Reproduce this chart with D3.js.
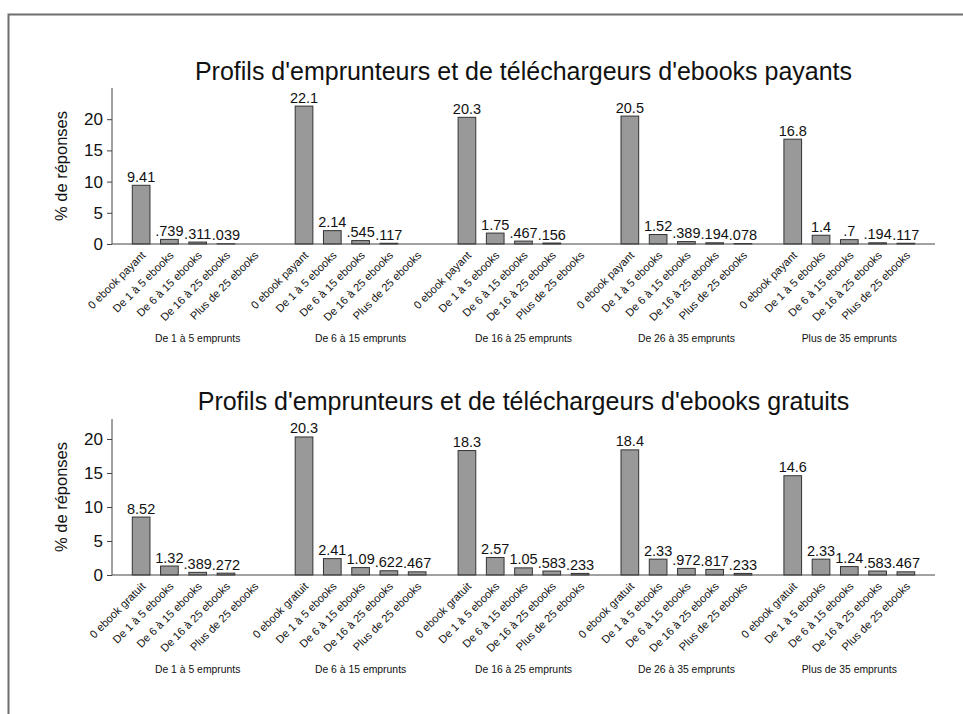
<!DOCTYPE html>
<html><head><meta charset="utf-8">
<script src="https://cdn.jsdelivr.net/npm/d3@7"></script>
<style>
html,body{margin:0;padding:0;background:#fff;}
svg{display:block;font-family:"Liberation Sans",Arial,sans-serif;}
</style></head>
<body>
<svg id="chart" width="963" height="714"></svg>
<script>
// ---- data ----
const groups = ["De 1 à 5 emprunts","De 6 à 15 emprunts","De 16 à 25 emprunts","De 26 à 35 emprunts","Plus de 35 emprunts"];
const catsPayant = ["0 ebook payant","De 1 à 5 ebooks","De 6 à 15 ebooks","De 16 à 25 ebooks","Plus de 25 ebooks"];
const catsGratuit = ["0 ebook gratuit","De 1 à 5 ebooks","De 6 à 15 ebooks","De 16 à 25 ebooks","Plus de 25 ebooks"];
const valuesPayant = [
  [9.41, .739, .311, .039, null],
  [22.1, 2.14, .545, .117, null],
  [20.3, 1.75, .467, .156, null],
  [20.5, 1.52, .389, .194, .078],
  [16.8, 1.4, .7, .194, .117]
];
const valuesGratuit = [
  [8.52, 1.32, .389, .272, null],
  [20.3, 2.41, 1.09, .622, .467],
  [18.3, 2.57, 1.05, .583, .233],
  [18.4, 2.33, .972, .817, .233],
  [14.6, 2.33, 1.24, .583, .467]
];
const labelsPayant = [
  ["9.41",".739",".311",".039",""],
  ["22.1","2.14",".545",".117",""],
  ["20.3","1.75",".467",".156",""],
  ["20.5","1.52",".389",".194",".078"],
  ["16.8","1.4",".7",".194",".117"]
];
const labelsGratuit = [
  ["8.52","1.32",".389",".272",""],
  ["20.3","2.41","1.09",".622",".467"],
  ["18.3","2.57","1.05",".583",".233"],
  ["18.4","2.33",".972",".817",".233"],
  ["14.6","2.33","1.24",".583",".467"]
];
const yTicks = [0,5,10,15,20];
const titles = ["Profils d'emprunteurs et de téléchargeurs d'ebooks payants",
                "Profils d'emprunteurs et de téléchargeurs d'ebooks gratuits"];
const yAxisTitle = "% de réponses";

// ---- drawing ----
const svg = d3.select("#chart");
svg.append("path").attr("d","M8.5,714 L8.5,14.5 L963,14.5")
   .attr("fill","none").attr("stroke","#6e6e6e").attr("stroke-width",2);

const panels = [
  {cats:catsPayant, vals:valuesPayant, labs:labelsPayant, title:titles[0], yMax:25,   base:244, top:88,  titleY:80},
  {cats:catsGratuit, vals:valuesGratuit, labs:labelsGratuit, title:titles[1], yMax:22.94, base:575, top:419, titleY:410}
];
const xLeft = 112, xRight = 935;

panels.forEach(p => {
  const g = svg.append("g");
  const y = d3.scaleLinear().domain([0,p.yMax]).range([p.base,p.top]);
  const xg = d3.scaleBand().domain(groups).range([xLeft,xRight]).paddingInner(0.132).paddingOuter(0.092);
  const xc = d3.scaleBand().domain(d3.range(5)).range([0,xg.bandwidth()]).paddingInner(0.375).paddingOuter(0.1875);

  g.append("text").attr("x",523.5).attr("y",p.titleY).attr("text-anchor","middle")
    .attr("font-size",25).attr("fill","#111").text(p.title);

  const ya = g.append("g").attr("transform",`translate(${xLeft},0)`)
    .call(d3.axisLeft(y).tickValues(yTicks).tickSize(5).tickPadding(4).tickFormat(d3.format("d")));
  ya.select(".domain").attr("stroke","#444").attr("d",`M0,${p.base}V${p.top}`);
  ya.selectAll(".tick line").attr("stroke","#444");
  ya.selectAll(".tick text").attr("font-size",17).attr("fill","#111").attr("font-family","Liberation Sans, Arial, sans-serif");

  g.append("text").attr("transform",`translate(67,${(p.base+p.top)/2}) rotate(-90)`)
    .attr("text-anchor","middle").attr("font-size",16.5).attr("fill","#111").text(yAxisTitle);

  groups.forEach((gr,gi) => {
    const gx = xg(gr);
    p.vals[gi].forEach((v,ci) => {
      const bx = gx + xc(ci);
      const cx = bx + xc.bandwidth()/2;
      if (v !== null) {
        g.append("rect").attr("x",bx).attr("y",y(v)).attr("width",xc.bandwidth())
          .attr("height",y(0)-y(v)).attr("fill","#999999").attr("stroke","#333").attr("stroke-width",1);
        g.append("text").attr("x",cx).attr("y",y(v)-3.5).attr("text-anchor","middle")
          .attr("font-size",14.5).attr("fill","#111").text(p.labs[gi][ci]);
      }
      g.append("text").attr("transform",`translate(${cx+5},${p.base+12}) rotate(-45)`)
        .attr("text-anchor","end").attr("font-size",11.1).attr("fill","#111").text(p.cats[ci]);
    });
    g.append("text").attr("x",gx+xg.bandwidth()/2).attr("y",p.base+98).attr("text-anchor","middle")
      .attr("font-size",10.4).attr("fill","#111").text(gr);
  });

  g.append("line").attr("x1",xLeft).attr("x2",xRight).attr("y1",y(0)).attr("y2",y(0))
    .attr("stroke","#444").attr("stroke-width",1);
});
</script>
</body></html>
